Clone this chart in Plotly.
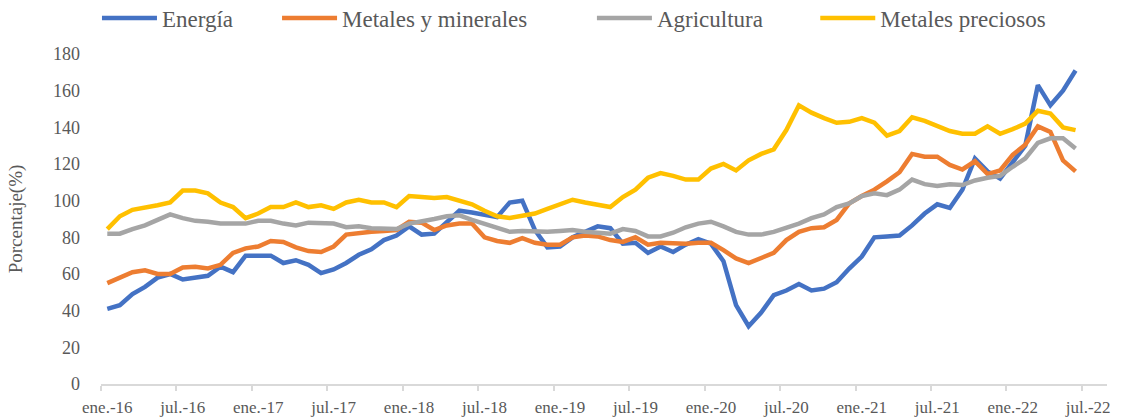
import plotly.graph_objects as go

# Monthly data, ene.-16 .. jun.-22 (78 months)
month_abbr = ["ene.", "feb.", "mar.", "abr.", "may.", "jun.",
              "jul.", "ago.", "sep.", "oct.", "nov.", "dic."]
years = ["16", "17", "18", "19", "20", "21", "22"]
months = [f"{m}-{y}" for y in years for m in month_abbr][:78]

energia = [41, 43, 49, 53, 58, 60, 57, 58, 59, 64, 61, 70,
           70, 70, 66, 67.5, 65, 60.5, 62.5, 66, 70.5, 73.5, 78.5, 81,
           86, 81.5, 82, 88, 94.5, 93.5, 92.5, 91, 99, 100, 84, 74.5,
           75, 80, 83, 86, 85, 76.5, 77, 71.5, 75, 72, 76, 79,
           76.5, 67, 43, 31.5, 39, 48.5, 51, 54.5, 51, 52, 55.5, 63,
           69.5, 80, 80.5, 81, 86.5, 93, 98, 96, 106, 123, 116, 112,
           121, 130, 163, 152, 160, 171]

metales_minerales = [55, 58, 61, 62, 60, 60, 63.5, 64, 63, 65, 71.5, 74,
                     75, 78, 77.5, 74.5, 72.5, 72, 75, 81.5, 82.5, 83, 83.5, 84,
                     88.5, 88, 84, 86.5, 87.5, 87.5, 80, 78, 77, 79.5, 77, 76,
                     76, 80, 81, 80.5, 78.5, 77.5, 80, 76, 77, 76.5, 76.5, 77,
                     77, 73, 68.5, 66, 68.5, 71.5, 78.5, 83, 85, 85.5, 89.5, 98.5,
                     102.5, 106, 110.5, 115.5, 125.5, 124, 124, 119.5, 117, 121.5, 114.5, 116.5,
                     125, 130.5, 140.5, 137.5, 122, 116]

agricultura = [82, 82, 84.5, 86.5, 89.5, 92.5, 90.5, 89, 88.5, 87.5, 87.5, 87.5,
               89, 89, 87.5, 86.5, 88, 87.5, 87.5, 85.5, 86, 85, 85, 84.5,
               87.5, 88.5, 90, 91.5, 92, 89.5, 87.5, 85.5, 83, 83.5, 83, 83,
               83.5, 84, 83, 82.5, 82, 84.5, 83.5, 80.5, 80.5, 82.5, 85.5, 87.5,
               88.5, 86, 83, 81.5, 81.5, 83, 85, 87.5, 90.5, 92.5, 96.5, 98.5,
               102.5, 104, 103, 106, 111.5, 109, 108, 109, 108.5, 111, 112.5, 113.5,
               118.5, 123, 131.5, 134, 134, 128.5]

metales_preciosos = [84.5, 91.5, 95, 96, 97.5, 99, 105.5, 105.5, 104, 99, 96.5, 90.5,
                     93, 96.5, 96.5, 99, 96.5, 97.5, 95.5, 99, 100.5, 99, 99, 96.5,
                     102.5, 102, 101.5, 102, 100, 98, 94.5, 91.5, 90.5, 92, 93, 95.5,
                     98, 100.5, 99, 97.5, 96.5, 102, 106, 112.5, 115, 113.5, 111.5, 111.5,
                     117.5, 120, 116.5, 122, 125.5, 128, 138.5, 152, 148, 145, 142.5, 143,
                     145, 142.5, 135.5, 138, 145.5, 143.5, 141, 138, 136.5, 136.5, 140.5, 136.5,
                     139, 142, 149, 147.5, 140, 138.5]

series_names = ["Energía", "Metales y minerales", "Agricultura", "Metales preciosos"]
series_values = [energia, metales_minerales, agricultura, metales_preciosos]
series_colors = ["#4472C4", "#ED7D31", "#A5A5A5", "#FFC000"]
legend_ids = ["legend", "legend2", "legend3", "legend4"]
legend_x = [-0.004, 0.175, 0.488, 0.710]

tick_labels = ["ene.-16", "jul.-16", "ene.-17", "jul.-17", "ene.-18", "jul.-18",
               "ene.-19", "jul.-19", "ene.-20", "jul.-20", "ene.-21", "jul.-21",
               "ene.-22", "jul.-22"]
tick_positions = [6 * k for k in range(len(tick_labels))]

x_idx = list(range(len(months)))

font_family = "Liberation Serif, Times New Roman, serif"
text_color = "#595959"

fig = go.Figure()
for name, vals, col, lid in zip(series_names, series_values, series_colors, legend_ids):
    fig.add_trace(go.Scatter(
        x=x_idx, y=vals, name=name, mode="lines",
        line=dict(color=col, width=4.5),
        legend=lid,
        customdata=months,
        hovertemplate="%{customdata}: %{y}<extra>" + name + "</extra>",
    ))

legend_layout = {}
for lid, lx in zip(legend_ids, legend_x):
    legend_layout[lid] = dict(
        orientation="h", x=lx, xanchor="left", y=1.109, yanchor="middle",
        font=dict(size=23, color=text_color, family=font_family),
        itemwidth=55, bgcolor="rgba(0,0,0,0)",
    )

fig.update_layout(
    width=1127, height=417,
    margin=dict(l=101, r=20, t=54, b=33, autoexpand=False),
    paper_bgcolor="white", plot_bgcolor="white",
    font=dict(family=font_family, color=text_color),
    showlegend=True,
    xaxis=dict(
        range=[-0.5, 79.5],
        tickmode="array", tickvals=tick_positions, ticktext=tick_labels,
        ticks="", showgrid=False, zeroline=False,
        showline=True, linecolor="#D9D9D9", linewidth=1.5,
        tickfont=dict(size=17, color=text_color, family=font_family),
        ticklabelstandoff=7,
        minor=dict(tickmode="linear", tick0=-0.5, dtick=6, ticks="outside",
                   ticklen=5, tickcolor="#D9D9D9", tickwidth=1.5, showgrid=False),
    ),
    yaxis=dict(
        range=[0, 180], tickmode="linear", tick0=0, dtick=20,
        showgrid=False, zeroline=False, showline=False, ticks="",
        tickfont=dict(size=18, color=text_color, family=font_family),
        ticklabelstandoff=20,
        title=dict(text="Porcentaje(%)", font=dict(size=19, color=text_color, family=font_family),
                   standoff=25),
    ),
    **legend_layout,
)

fig.write_html("out.html", config={"displayModeBar": False})

# remove the default page margin so the figure sits at the window's top-left corner
with open("out.html", "r", encoding="utf-8") as f:
    html = f.read()
html = html.replace("<head>", "<head><style>html,body{margin:0;padding:0;overflow:hidden;}</style>", 1)
with open("out.html", "w", encoding="utf-8") as f:
    f.write(html)
